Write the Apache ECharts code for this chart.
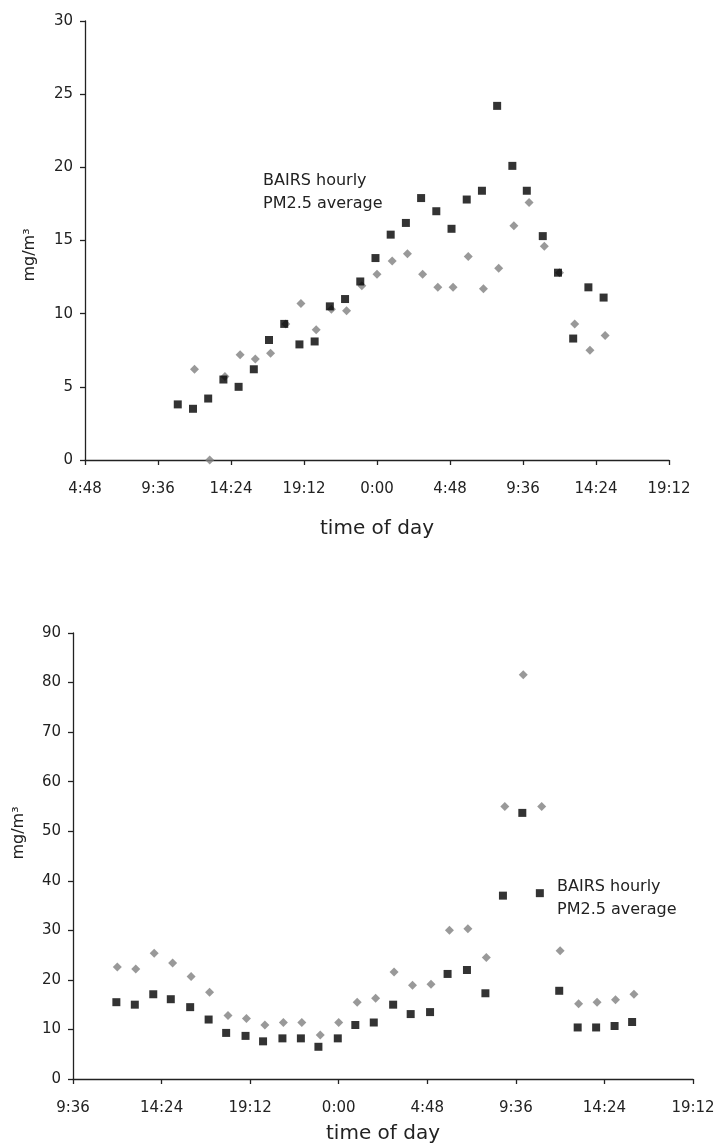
<!DOCTYPE html>
<html>
<head>
<meta charset="utf-8">
<script src="https://cdn.jsdelivr.net/npm/echarts@6/dist/echarts.min.js"></script>
<style>
html,body{margin:0;padding:0;background:#fff;}
#chart{width:718px;height:1145px;}
</style>
</head>
<body>
<div id="chart"></div>
<script>
// ---- Top chart data (x = hours since midnight of day 1) ----
var topBairsHours = [10.9,11.9,12.9,13.9,14.9,15.9,16.9,17.9,18.9,19.9,20.9,21.9,22.9,23.9,24.9,25.9,26.9,27.9,28.9,29.9,30.9,31.9,32.9,33.85,34.9,35.9,36.9,37.9,38.9];
var topBairsValues = [3.8,3.5,4.2,5.5,5.0,6.2,8.2,9.3,7.9,8.1,10.5,11.0,12.2,13.8,15.4,16.2,17.9,17.0,15.8,17.8,18.4,24.2,20.1,18.4,15.3,12.8,8.3,11.8,11.1];
var topOtherHours = [12,13,14,15,16,17,18,19,20,21,22,23,24,25,26,27,28,29,30,31,32,33,34,35,36,37,38,39];
var topOtherValues = [6.2,0.0,5.7,7.2,6.9,7.3,9.3,10.7,8.9,10.3,10.2,11.9,12.7,13.6,14.1,12.7,11.8,11.8,13.9,11.7,13.1,16.0,17.6,14.6,12.8,9.3,7.5,8.5];

// ---- Bottom chart data ----
var botBairsHours = [11.95,12.95,13.95,14.9,15.95,16.95,17.9,18.95,19.9,20.95,21.95,22.9,23.95,24.9,25.9,26.95,27.9,28.95,29.9,30.95,31.95,32.9,33.95,34.9,35.95,36.95,37.95,38.95,39.9];
var botBairsValues = [15.5,15.0,17.1,16.1,14.5,12.0,9.3,8.7,7.6,8.2,8.2,6.5,8.2,10.9,11.4,15.0,13.1,13.5,21.2,22.0,17.3,37.0,53.7,37.5,17.8,10.4,10.4,10.7,11.5];
var botOtherHours = [12,13,14,15,16,17,18,19,20,21,22,23,24,25,26,27,28,29,30,31,32,33,34,35,36,37,38,39,40];
var botOtherValues = [22.6,22.2,25.4,23.4,20.7,17.5,12.8,12.2,10.9,11.4,11.4,8.9,11.4,15.5,16.3,21.6,18.9,19.1,30.0,30.3,24.5,55.0,81.6,55.0,25.9,15.2,15.5,16.0,17.1];

// ---- Text ----
var xAxisTitle = 'time of day';
var yAxisTitle = 'mg/m³';
var annotationLines = ['BAIRS hourly', 'PM2.5 average'];

function zip(xs, ys){ return xs.map(function(x,i){ return [x, ys[i]]; }); }
function timeLabel(v){
  var h = ((v % 24) + 24) % 24;
  var hh = Math.floor(h + 1e-6);
  var mm = Math.round((h - hh) * 60);
  if (mm === 60) { hh += 1; mm = 0; }
  return hh + ':' + (mm < 10 ? '0' : '') + mm;
}

var FONT = 'DejaVu Sans';
var TXT = '#222';
var axisLine = {show:true, lineStyle:{color:'#222', width:1.3}};
var axisTick = {show:true, length:5, lineStyle:{color:'#222', width:1.3}};

function xAxisCfg(grid, min, max, gap){
  return {
    type:'value', gridIndex:grid, min:min, max:max, interval:4.8,
    axisLine:axisLine, axisTick:axisTick, splitLine:{show:false},
    axisLabel:{formatter:timeLabel, color:TXT, fontFamily:FONT, fontSize:15, margin:22},
    name:xAxisTitle, nameLocation:'middle', nameGap:gap,
    nameTextStyle:{color:TXT, fontFamily:FONT, fontSize:20}
  };
}
function yAxisCfg(grid, max, interval){
  return {
    type:'value', gridIndex:grid, min:0, max:max, interval:interval,
    axisLine:axisLine, axisTick:axisTick, splitLine:{show:false},
    axisLabel:{color:TXT, fontFamily:FONT, fontSize:15, margin:12}
  };
}
function annotation(x, y){
  return {
    type:'text', left:x, top:y,
    style:{text:annotationLines.join('\n'), fill:TXT, font:'16px "' + FONT + '"', lineHeight:23}
  };
}
function yTitle(x, y){
  return {
    type:'text', x:x, y:y, rotation:Math.PI/2,
    style:{text:yAxisTitle, fill:TXT, font:'16px "' + FONT + '"', align:'center', verticalAlign:'middle'}
  };
}

var chart = echarts.init(document.getElementById('chart'), null, {renderer:'canvas'});
chart.setOption({
  animation:false,
  backgroundColor:'#fff',
  grid:[
    {left:85, top:21, width:584, height:439},
    {left:73, top:633, width:620, height:448}
  ],
  xAxis:[xAxisCfg(0, 4.8, 43.2, 59), xAxisCfg(1, 9.6, 43.2, 45)],
  yAxis:[yAxisCfg(0, 30, 5), yAxisCfg(1, 90, 10)],
  graphic:[
    annotation(263, 169),
    annotation(557, 875),
    yTitle(30, 255),
    yTitle(19, 833)
  ],
  series:[
    {type:'scatter', name:'other', xAxisIndex:0, yAxisIndex:0, symbol:'diamond', symbolSize:9,
     itemStyle:{color:'#7f7f7f'}, data:zip(topOtherHours, topOtherValues)},
    {type:'scatter', name:'BAIRS hourly PM2.5 average', xAxisIndex:0, yAxisIndex:0, symbol:'rect', symbolSize:8,
     itemStyle:{color:'#000'}, data:zip(topBairsHours, topBairsValues)},
    {type:'scatter', name:'other', xAxisIndex:1, yAxisIndex:1, symbol:'diamond', symbolSize:9,
     itemStyle:{color:'#7f7f7f'}, data:zip(botOtherHours, botOtherValues)},
    {type:'scatter', name:'BAIRS hourly PM2.5 average', xAxisIndex:1, yAxisIndex:1, symbol:'rect', symbolSize:8,
     itemStyle:{color:'#000'}, data:zip(botBairsHours, botBairsValues)}
  ]
});
</script>
</body>
</html>
